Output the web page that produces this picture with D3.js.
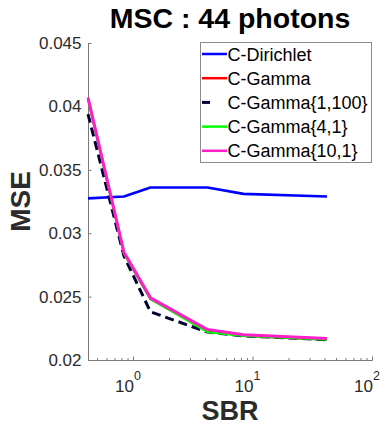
<!DOCTYPE html>
<html>
<head>
<meta charset="utf-8">
<script src="https://cdn.jsdelivr.net/npm/d3@7"></script>
<style>
  html, body { margin: 0; padding: 0; background: #fff; }
  svg { display: block; }
  text { font-family: "Liberation Sans", Arial, sans-serif; }
</style>
</head>
<body>
<svg id="chart" width="389" height="426"></svg>
<script>
// Signal-to-background ratios (x) and mean squared error for each estimator
const sbr = [0.42, 0.84, 1.4, 4.2, 8.4, 42];
const cDirichlet = [0.03275, 0.0329, 0.0336, 0.0336, 0.0331, 0.0329];
const cGamma = [0.0406, 0.0284, 0.0248, 0.0223, 0.0219, 0.0216];
const cGamma1_100 = [0.0394, 0.0282, 0.0238, 0.0222, 0.0219, 0.0216];
const cGamma4_1 = [0.0406, 0.0284, 0.0248, 0.0222, 0.0219, 0.0216];
const cGamma10_1 = [0.0407, 0.0285, 0.0249, 0.0224, 0.0220, 0.0217];

const seriesNames = ["C-Dirichlet", "C-Gamma", "C-Gamma{1,100}", "C-Gamma{4,1}", "C-Gamma{10,1}"];
const yTicks = [0.02, 0.025, 0.03, 0.035, 0.04, 0.045];
const yTickLabels = ["0.02", "0.025", "0.03", "0.035", "0.04", "0.045"];
const xTicks = [1, 10, 100];
const xTickExponents = ["0", "1", "2"];
const xMinorTicks = [0.5, 0.6, 0.7, 0.8, 0.9, 2, 3, 4, 5, 6, 7, 8, 9, 20, 30, 40, 50, 60, 70, 80, 90];

const series = [
  { name: seriesNames[0], values: cDirichlet, color: "#0000ff", width: 2.6, dash: null },
  { name: seriesNames[1], values: cGamma, color: "#ff0000", width: 2.2, dash: null },
  { name: seriesNames[2], values: cGamma1_100, color: "#000033", width: 3, dash: "9,5" },
  { name: seriesNames[3], values: cGamma4_1, color: "#00ff00", width: 2.2, dash: null },
  { name: seriesNames[4], values: cGamma10_1, color: "#ff1ec8", width: 3, dash: null }
];

const svg = d3.select("#chart");
const plotLeft = 88, plotRight = 372, plotTop = 43, plotBottom = 360;

const x = d3.scaleLog().domain([0.42, 100]).range([plotLeft, plotRight]);
const y = d3.scaleLinear().domain([0.02, 0.045]).range([plotBottom, plotTop]);

const axisColor = "#7a7a7a";
const textColor = "#2b2b2b";

// Y axis: inward ticks, labels on the left
const yAxis = svg.append("g")
  .attr("transform", `translate(${plotLeft + 0.5},0)`)
  .call(d3.axisLeft(y).tickValues(yTicks)
    .tickSize(-3).tickPadding(7)
    .tickFormat((d, i) => yTickLabels[i]));
yAxis.select(".domain").attr("stroke", axisColor).attr("d", `M0,${plotTop}V${plotBottom + 0.5}`);
yAxis.selectAll(".tick line").attr("stroke", axisColor);
yAxis.selectAll(".tick text")
  .attr("fill", textColor).attr("font-size", 17)
  .attr("font-family", "Liberation Sans, Arial, sans-serif");

// X axis: log scale, inward major and minor ticks
const xAxis = svg.append("g")
  .attr("transform", `translate(0,${plotBottom + 0.5})`)
  .call(d3.axisBottom(x).tickValues(xTicks).tickSize(-4).tickFormat(""));
xAxis.select(".domain").attr("stroke", axisColor).attr("d", `M${plotLeft},0H${plotRight + 0.5}`);
xAxis.selectAll(".tick line").attr("stroke", axisColor);

const xMinor = svg.append("g")
  .attr("transform", `translate(0,${plotBottom + 0.5})`)
  .call(d3.axisBottom(x).tickValues(xMinorTicks).tickSize(-2.5).tickFormat(""));
xMinor.select(".domain").remove();
xMinor.selectAll(".tick line").attr("stroke", axisColor);

// Power-of-ten tick labels
const xLab = svg.append("g");
xTicks.forEach((t, i) => {
  const px = x(t);
  xLab.append("text")
    .attr("x", px + 1).attr("y", 392)
    .attr("text-anchor", "end")
    .attr("font-size", 17).attr("fill", textColor)
    .text("10");
  xLab.append("text")
    .attr("x", px + 1).attr("y", 380)
    .attr("font-size", 12.5).attr("fill", textColor)
    .text(xTickExponents[i]);
});

// Series lines
const line = d3.line()
  .x((d, i) => x(sbr[i]))
  .y(d => y(d));

series.forEach(s => {
  svg.append("path")
    .datum(s.values)
    .attr("d", line)
    .attr("fill", "none")
    .attr("stroke", s.color)
    .attr("stroke-width", s.width)
    .attr("stroke-linejoin", "round")
    .attr("stroke-dasharray", s.dash);
});

// Title and axis labels
svg.append("text")
  .attr("x", (plotLeft + plotRight) / 2).attr("y", 28)
  .attr("text-anchor", "middle")
  .attr("font-size", 28.5).attr("font-weight", "bold").attr("fill", "#000")
  .text("MSC : 44 photons");

svg.append("text")
  .attr("x", (plotLeft + plotRight) / 2).attr("y", 420)
  .attr("text-anchor", "middle")
  .attr("font-size", 27).attr("font-weight", "bold").attr("fill", textColor)
  .text("SBR");

svg.append("text")
  .attr("transform", `translate(30,${(plotTop + plotBottom) / 2}) rotate(-90)`)
  .attr("text-anchor", "middle")
  .attr("font-size", 28).attr("font-weight", "bold").attr("fill", textColor)
  .text("MSE");

// Legend
const legend = svg.append("g");
legend.append("rect")
  .attr("x", 200.5).attr("y", 42.5)
  .attr("width", 171).attr("height", 120)
  .attr("fill", "#fff").attr("stroke", "#8c8c8c").attr("stroke-width", 1);

series.forEach((s, i) => {
  const ly = 54 + i * 24.2;
  legend.append("line")
    .attr("x1", 202).attr("x2", s.dash ? 210 : 227)
    .attr("y1", ly).attr("y2", ly)
    .attr("stroke", s.color).attr("stroke-width", s.dash ? 3 : 2.5);
  legend.append("text")
    .attr("x", 227.5).attr("y", ly + 6.5)
    .attr("font-size", 18).attr("fill", "#000")
    .text(s.name);
});
</script>
</body>
</html>
